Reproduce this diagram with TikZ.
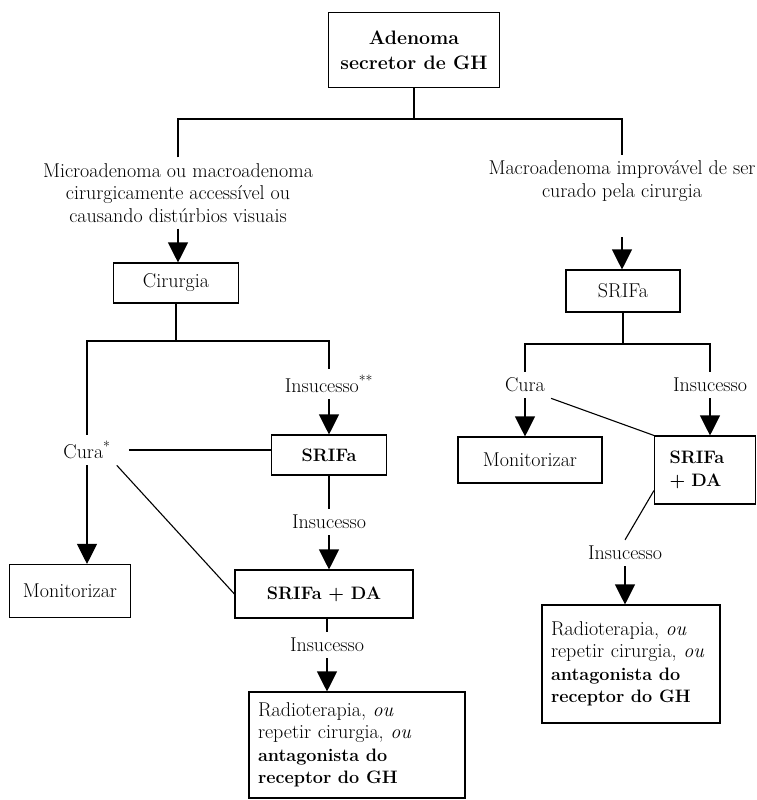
\documentclass[tikz,border=0pt]{standalone}
\usepackage{tikz}
\usetikzlibrary{arrows.meta, positioning, calc}
\newcommand{\boldtxt}[1]{{\fontsize{18}{22.5}\selectfont\bfseries #1}}
\tikzset{
  block/.style={rectangle, draw, line width=1.1pt, align=center,
    font=\fontsize{20}{22.5}\selectfont, inner sep=0pt},
  boldblock/.style={block, font=\fontsize{18}{22.5}\selectfont\bfseries},
  topblock/.style={block, font=\fontsize{19.5}{25}\selectfont\bfseries,
    minimum width=171pt, minimum height=75pt},
  endblock/.style={block, align=left, inner xsep=9pt},
  tag/.style={align=center, font=\fontsize{20}{22.5}\selectfont, inner sep=6pt},
  arrow/.style={-{Triangle[width=20pt,length=20pt]}, line width=1.1pt},
  line/.style={line width=1.1pt}
}

\begin{document}
\begin{tikzpicture}[x=1pt, y=-1pt]
  \useasboundingbox (0,0) rectangle (757,800);

  % Top block
  \node[topblock] (adenoma) at (414,50) {Adenoma\\secretor de GH};
  \coordinate (split) at (414,119);

  % The two starting cases
  \node[tag] (micro) at (178,193) {Microadenoma ou macroadenoma\\cirurgicamente accessível ou\\causando distúrbios visuais};
  \node[tag] (macro) at (622,181) {Macroadenoma improvável de ser\\curado pela cirurgia};
  \draw[line] (adenoma) -- (split);
  \draw[line] (micro.north) |- (split) -| (macro.north);

  % Left branch: surgery first
  \node[block, minimum width=125pt, minimum height=40pt] (cirurgia) at (176,283) {Cirurgia};
  \draw[arrow] (micro.south) -- (micro.south |- cirurgia.north);
  \coordinate (splitL) at (176,341);
  \node[tag] (curaL) at (87,450) {Cura\textsuperscript{*}};
  \node[tag] (insL1) at (329,384) {Insucesso\textsuperscript{**}};
  \draw[line] (cirurgia) -- (splitL);
  \draw[line] (curaL.north) |- (splitL) -| (insL1.north);

  \node[block, minimum width=121pt, minimum height=53pt] (monL) at (70,591) {Monitorizar};
  \node[boldblock, minimum width=115pt, minimum height=40pt] (srifaL) at (329,455) {SRIFa};
  \node[tag] (insL2) at (329,522) {Insucesso};
  \node[boldblock, minimum width=178pt, minimum height=48pt] (sdaL) at (324,594) {SRIFa + DA};
  \node[tag] (insL3) at (327,645) {Insucesso};
  \node[endblock, text width=198pt, minimum height=106pt] (finalL) at (357,745)
    {Radioterapia, \textit{ou}\\repetir cirurgia, \textit{ou}\\\boldtxt{antagonista do}\\\boldtxt{receptor do GH}};

  \draw[arrow] (curaL.south) -- (curaL.south |- monL.north);
  \draw[line, shorten <=12pt] (curaL.east) -- (curaL.east -| srifaL.west);
  \draw[line] (curaL.south east) -- (sdaL.west);
  \draw[arrow] (insL1.south) -- (insL1.south |- srifaL.north);
  \draw[line] (srifaL.south -| insL2.north) -- (insL2.north);
  \draw[arrow] (insL2.south) -- (insL2.south |- sdaL.north);
  \draw[line] (sdaL.south -| insL3.north) -- (insL3.north);
  \draw[arrow] (insL3.south) -- (insL3.south |- finalL.north);

  % Right branch: SRIFa first
  \node[block, minimum width=114pt, minimum height=42pt] (srifaR) at (623,291) {SRIFa};
  \draw[arrow] (macro.south) ++(0,30) -- (macro.south |- srifaR.north);
  \coordinate (splitR) at (623,344);
  \node[tag] (curaR) at (525,385) {Cura};
  \node[tag] (insR1) at (710,385) {Insucesso};
  \draw[line] (srifaR) -- (splitR);
  \draw[line] (curaR.north) |- (splitR) -| (insR1.north);

  \node[block, minimum width=144pt, minimum height=46pt] (monR) at (530,460) {Monitorizar};
  \node[boldblock, align=left, text width=71pt, inner xsep=15pt, minimum height=68pt] (sdaR) at (705,470) {SRIFa\\+ DA};
  \node[tag] (insR2) at (625,553) {Insucesso};
  \node[endblock, text width=160pt, minimum height=118pt] (finalR) at (631,664)
    {Radioterapia, \textit{ou}\\repetir cirurgia, \textit{ou}\\\boldtxt{antagonista do}\\\boldtxt{receptor do GH}};

  \draw[arrow] (curaR.south) -- (curaR.south |- monR.north);
  \draw[line] (curaR.south east) -- (sdaR.north west);
  \draw[arrow] (insR1.south) -- (insR1.south |- sdaR.north);
  \draw[line] ([yshift=14pt]sdaR.south west) -- (insR2.north);
  \draw[arrow] (insR2.south) -- (insR2.south |- finalR.north);
\end{tikzpicture}
\end{document}
